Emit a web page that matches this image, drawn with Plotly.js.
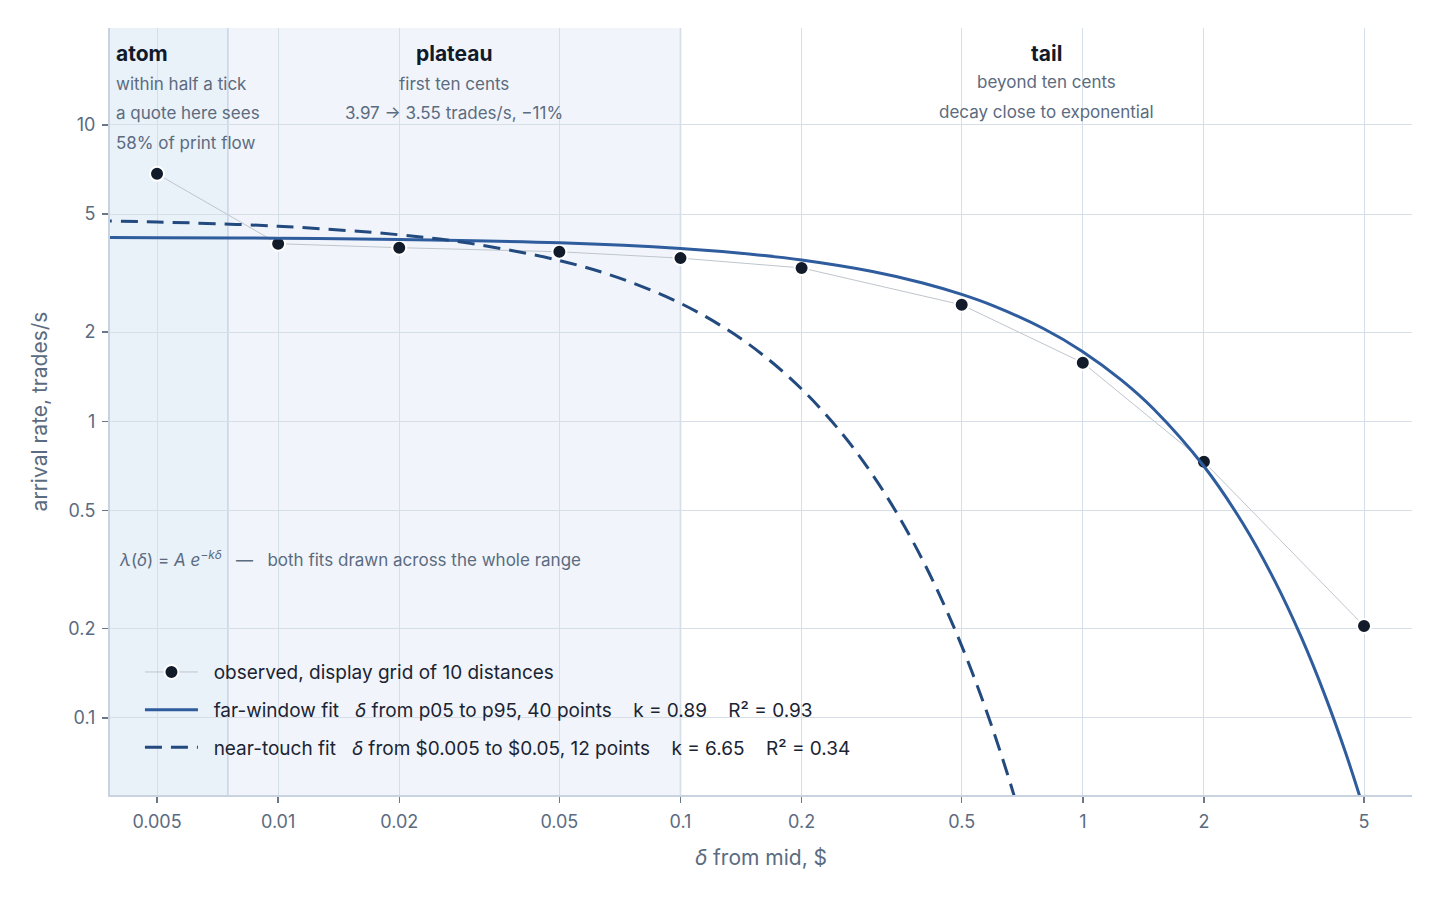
<!DOCTYPE html>
<html>
<head>
<meta charset="utf-8">
<script src="https://cdn.plot.ly/plotly-3.0.1.min.js"></script>
<style>
  html, body { margin: 0; padding: 0; background: #fff; }
  #chart { width: 1440px; height: 900px; }
</style>
</head>
<body>
<div id="chart"></div>
<script>
// observed arrival rate at each display distance
var obsDelta = [0.005, 0.01, 0.02, 0.05, 0.1, 0.2, 0.5, 1, 2, 5];
var obsRate = [6.83, 3.97, 3.85, 3.73, 3.55, 3.29, 2.47, 1.575, 0.73, 0.204];

// far-window fit
var farDelta = [0.0035, 0.005, 0.01, 0.02, 0.05, 0.1, 0.15, 0.2, 0.3, 0.4, 0.5, 0.6, 0.8, 1, 1.25, 1.5, 2, 2.5, 3, 3.5, 4, 4.5, 5, 5.5];
var farRate = [4.167, 4.161, 4.143, 4.106, 3.998, 3.824, 3.658, 3.498, 3.200, 2.928, 2.679, 2.451, 2.051, 1.717, 1.374, 1.100, 0.705, 0.452, 0.2895, 0.1855, 0.1188, 0.0762, 0.0488, 0.0313];

// near-touch fit
var nearDelta = [0.0035, 0.005, 0.01, 0.02, 0.03, 0.05, 0.07, 0.1, 0.13, 0.16, 0.2, 0.25, 0.3, 0.35, 0.4, 0.45, 0.5, 0.55, 0.6, 0.65, 0.7, 0.75];
var nearRate = [4.748, 4.701, 4.547, 4.255, 3.981, 3.485, 3.051, 2.499, 2.047, 1.677, 1.285, 0.922, 0.661, 0.474, 0.340, 0.2438, 0.1748, 0.1253, 0.0899, 0.0645, 0.0462, 0.0331];

var xTicks = [0.005, 0.01, 0.02, 0.05, 0.1, 0.2, 0.5, 1, 2, 5];
var xTickText = ['0.005', '0.01', '0.02', '0.05', '0.1', '0.2', '0.5', '1', '2', '5'];
var yTicks = [0.1, 0.2, 0.5, 1, 2, 5, 10];
var yTickText = ['0.1', '0.2', '0.5', '1', '2', '5', '10'];

// region edges
var atomEdge = 0.0075;
var plateauEdge = 0.1;

var nb = '\u00a0';
function gap(n) { return nb.repeat(n); }

var observed = {
    x: obsDelta,
    y: obsRate,
    type: 'scatter',
    mode: 'lines+markers',
    name: gap(2) + 'observed, display grid of 10 distances',
    legendgroup: 'a',
    line: {color: '#bfc5cd', width: 1},
    marker: {color: '#121b2a', size: 14, line: {color: '#ffffff', width: 2}}
};

var farFit = {
    x: farDelta,
    y: farRate,
    type: 'scatter',
    mode: 'lines',
    name: gap(2) + 'far-window fit' + gap(3) + '<i>δ</i> from p05 to p95, 40 points' + gap(4) + 'k = 0.89' + gap(4) + 'R² = 0.93',
    legendgroup: 'b',
    line: {color: '#2e5c9d', width: 3, shape: 'spline', smoothing: 1}
};

var nearFit = {
    x: nearDelta,
    y: nearRate,
    type: 'scatter',
    mode: 'lines',
    name: gap(2) + 'near-touch fit' + gap(3) + '<i>δ</i> from $0.005 to $0.05, 12 points' + gap(4) + 'k = 6.65' + gap(4) + 'R² = 0.34',
    legendgroup: 'c',
    line: {color: '#234a7f', width: 3, dash: '17px,9px', shape: 'spline', smoothing: 1}
};

var subColor = '#5b6b80';
var headColor = '#111a2b';

function note(x, xref, py, text, opts) {
    return {
        x: x, xref: xref,
        y: (795 - py) / 767, yref: 'paper',
        text: text, showarrow: false,
        xanchor: opts.anchor || 'center', yanchor: 'middle',
        font: {family: 'Inter, sans-serif', size: opts.size || 17, color: opts.color || subColor}
    };
}

var plateauX = Math.log10(Math.sqrt(atomEdge * plateauEdge));
var tailX = Math.log10(Math.sqrt(plateauEdge * 6.58));

var annotations = [
    note(0.003, 'paper', 53, '<b>atom</b>', {anchor: 'left', size: 21, color: headColor}),
    note(0.003, 'paper', 84, 'within half a tick', {anchor: 'left'}),
    note(0.003, 'paper', 113, 'a quote here sees', {anchor: 'left'}),
    note(0.003, 'paper', 143, '58% of print flow', {anchor: 'left'}),
    note(plateauX, 'x', 53, '<b>plateau</b>', {size: 21, color: headColor}),
    note(plateauX, 'x', 84, 'first ten cents', {}),
    note(plateauX, 'x', 113, '3.97 → 3.55 trades/s, −11%', {}),
    note(tailX, 'x', 53, '<b>tail</b>', {size: 21, color: headColor}),
    note(tailX, 'x', 82, 'beyond ten cents', {}),
    note(tailX, 'x', 112, 'decay close to exponential', {}),
    note(0.005, 'paper', 558,
        '<i>λ</i>(<i>δ</i>) = <i>A</i> <i>e</i><sup>−<i>kδ</i></sup>' + gap(3) + '—' + gap(3) + 'both fits drawn across the whole range',
        {anchor: 'left'})
];

var shapes = [
    {type: 'rect', xref: 'x', yref: 'paper', x0: 0.003, x1: atomEdge, y0: 0, y1: 1,
     fillcolor: '#e9f1f9', line: {width: 0}, layer: 'below'},
    {type: 'rect', xref: 'x', yref: 'paper', x0: atomEdge, x1: plateauEdge, y0: 0, y1: 1,
     fillcolor: '#f1f5fb', line: {width: 0}, layer: 'below'},
    {type: 'line', xref: 'x', yref: 'paper', x0: atomEdge, x1: atomEdge, y0: 0, y1: 1,
     line: {color: '#c6d5e6', width: 1.5}, layer: 'below'},
    {type: 'line', xref: 'x', yref: 'paper', x0: plateauEdge, x1: plateauEdge, y0: 0, y1: 1,
     line: {color: '#c6d5e6', width: 1.5}, layer: 'below'}
];

var layout = {
    width: 1440,
    height: 900,
    margin: {l: 110, r: 28, t: 28, b: 105},
    paper_bgcolor: '#ffffff',
    plot_bgcolor: '#ffffff',
    font: {family: 'Inter, sans-serif', color: subColor},
    showlegend: true,
    legend: {
        x: 0.023, y: 0.185, xanchor: 'left', yanchor: 'top',
        bgcolor: 'rgba(0,0,0,0)',
        font: {family: 'Inter, sans-serif', size: 19, color: '#1b2433'},
        traceorder: 'grouped',
        tracegroupgap: 10,
        itemwidth: 53
    },
    xaxis: {
        type: 'log',
        range: [Math.log10(0.00382), Math.log10(6.58)],
        tickvals: xTicks,
        ticktext: xTickText,
        ticks: 'outside', ticklen: 6, tickwidth: 1.5, tickcolor: '#6b788a',
        ticklabelstandoff: 3,
        tickfont: {size: 18, color: subColor},
        showgrid: true, gridcolor: '#d6dee8', gridwidth: 1,
        showline: true, linecolor: '#c9d3df', linewidth: 2,
        zeroline: false,
        title: {text: '<i>δ</i> from mid, $', font: {size: 21, color: subColor}, standoff: 20}
    },
    yaxis: {
        type: 'log',
        range: [Math.log10(0.0549), Math.log10(21.2)],
        tickvals: yTicks,
        ticktext: yTickText,
        ticks: 'outside', ticklen: 6, tickwidth: 1.5, tickcolor: '#6b788a',
        ticklabelstandoff: 3,
        tickfont: {size: 18, color: subColor},
        showgrid: true, gridcolor: '#d6dee8', gridwidth: 1,
        showline: true, linecolor: '#c9d3df', linewidth: 2,
        zeroline: false,
        title: {text: 'arrival rate, trades/s', font: {size: 21, color: subColor}, standoff: 15}
    },
    shapes: shapes,
    annotations: annotations,
    hovermode: false
};

Plotly.newPlot('chart', [observed, farFit, nearFit], layout, {displayModeBar: false, staticPlot: true});
</script>
</body>
</html>
